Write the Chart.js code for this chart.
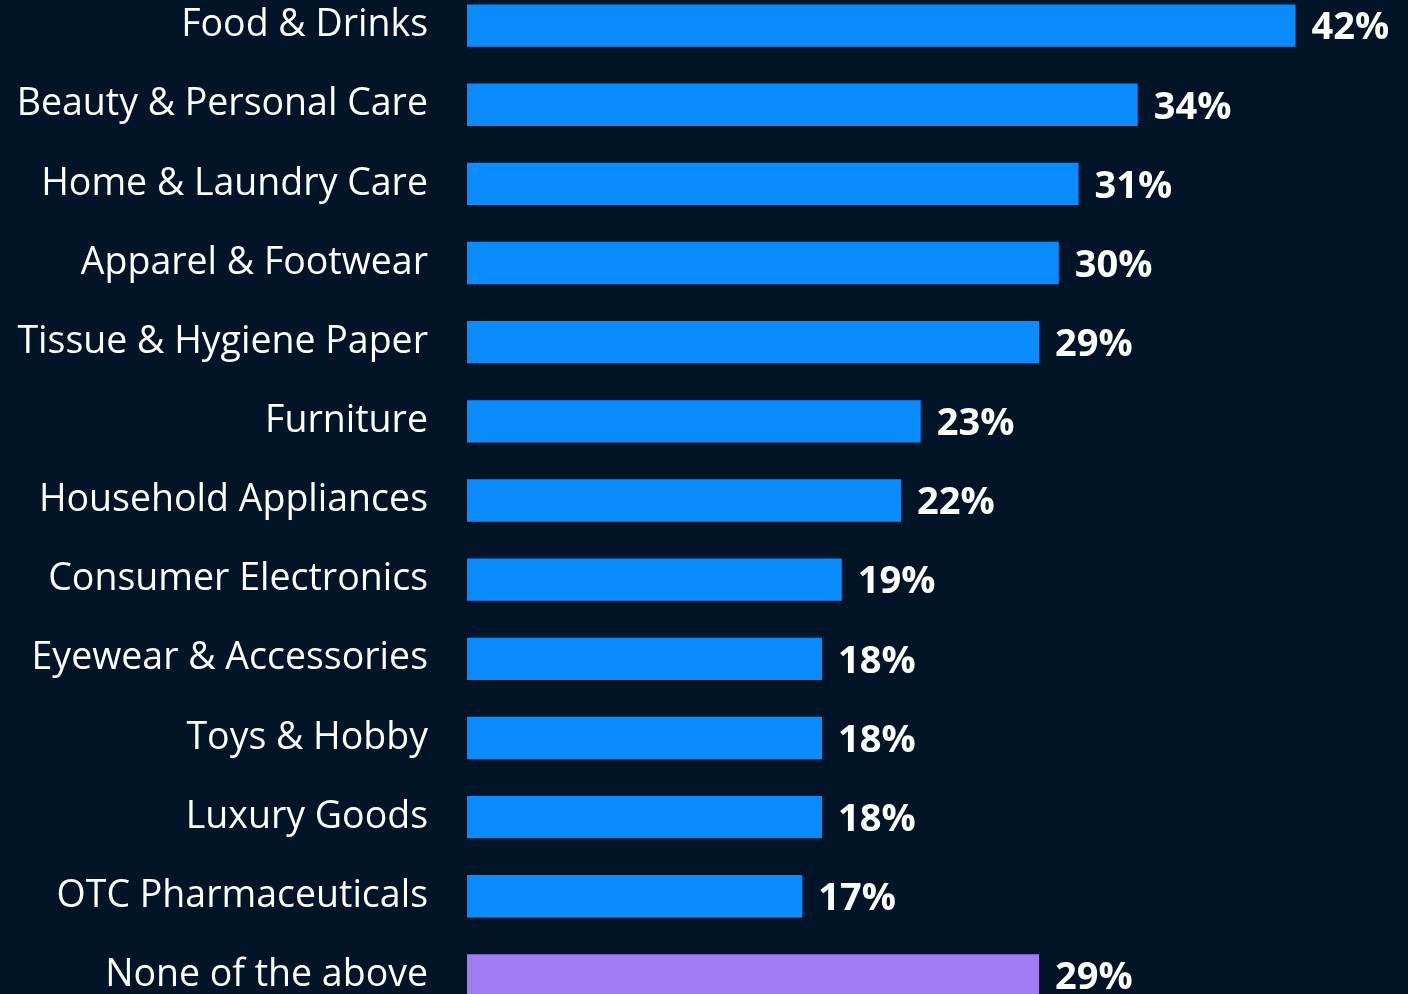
<!DOCTYPE html>
<html>
<head>
<meta charset="utf-8">
<script src="https://cdn.jsdelivr.net/npm/chart.js@4/dist/chart.umd.min.js"></script>
<style>
  html, body { margin: 0; padding: 0; background: #011428; overflow: hidden; width: 1408px; height: 994px; }
  #wrap { position: absolute; left: 0; top: -14px; width: 1408px; height: 1029px; }
</style>
</head>
<body>
<div id="wrap"><canvas id="c"></canvas></div>
<script>
const categories = [
  "Food & Drinks", "Beauty & Personal Care", "Home & Laundry Care", "Apparel & Footwear",
  "Tissue & Hygiene Paper", "Furniture", "Household Appliances", "Consumer Electronics",
  "Eyewear & Accessories", "Toys & Hobby", "Luxury Goods", "OTC Pharmaceuticals", "None of the above"
];
const values = [42, 34, 31, 30, 29, 23, 22, 19, 18, 18, 18, 17, 29];
const valueLabels = ["42%", "34%", "31%", "30%", "29%", "23%", "22%", "19%", "18%", "18%", "18%", "17%", "29%"];
const barColors = ["#0a8cff","#0a8cff","#0a8cff","#0a8cff","#0a8cff","#0a8cff","#0a8cff","#0a8cff","#0a8cff","#0a8cff","#0a8cff","#0a8cff","#a37cf4"];

const valueLabelPlugin = {
  id: 'valueLabels',
  afterDatasetsDraw(chart) {
    const ctx = chart.ctx;
    const meta = chart.getDatasetMeta(0);
    ctx.save();
    ctx.font = 'bold 38px "Open Sans"';
    ctx.fillStyle = '#ffffff';
    ctx.textAlign = 'left';
    ctx.textBaseline = 'middle';
    meta.data.forEach((bar, i) => {
      ctx.fillText(valueLabels[i], bar.x + 16, bar.y + 3);
    });
    ctx.restore();
  }
};

new Chart(document.getElementById('c'), {
  type: 'bar',
  data: {
    labels: categories,
    datasets: [{
      data: values,
      backgroundColor: barColors,
      borderWidth: 0,
      categoryPercentage: 1,
      barPercentage: 0.535
    }]
  },
  options: {
    indexAxis: 'y',
    responsive: true,
    maintainAspectRatio: false,
    animation: false,
    layout: { padding: 0 },
    plugins: { legend: { display: false }, tooltip: { enabled: false } },
    scales: {
      x: {
        display: false,
        min: 0,
        max: 47.7,
        grid: { display: false }
      },
      y: {
        grid: { display: false, drawTicks: false },
        border: { display: false },
        ticks: {
          color: '#ffffff',
          font: { family: '"Open Sans"', size: 37.5 },
          padding: 39,
          autoSkip: false
        },
        afterFit(scale) {
          scale.width = 467;
          scale.paddingTop = 0;
          scale.paddingBottom = 0;
        }
      }
    }
  },
  plugins: [valueLabelPlugin]
});
</script>
</body>
</html>
